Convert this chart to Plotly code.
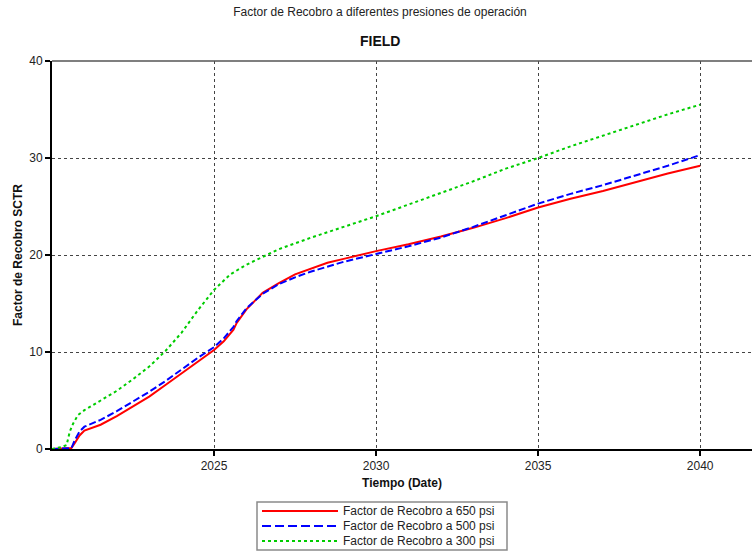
import plotly.graph_objects as go

# Recovery factor (%) versus time for three operating pressures
years_650 = [2020.0, 2020.6, 2020.7, 2020.85, 2021.0, 2021.5, 2022.0, 2022.5, 2023.0,
             2023.5, 2024.0, 2024.5, 2025.0, 2025.3, 2025.6, 2025.7, 2026.0, 2026.5,
             2027.0, 2027.5, 2028.0, 2028.5, 2029.0, 2030.0, 2031.0, 2032.0, 2033.0,
             2034.0, 2035.0, 2036.0, 2037.0, 2038.0, 2039.0, 2040.0]
fr_650 = [0.0, 0.1, 0.6, 1.4, 1.9, 2.5, 3.4, 4.4, 5.4, 6.6, 7.8, 9.0, 10.2, 11.1, 12.3,
          13.0, 14.4, 16.1, 17.1, 18.0, 18.6, 19.2, 19.6, 20.4, 21.1, 21.9, 22.8, 23.8,
          24.9, 25.8, 26.6, 27.5, 28.4, 29.2]

years_500 = years_650
fr_500 = [0.0, 0.1, 0.9, 1.8, 2.3, 3.0, 3.9, 4.9, 5.9, 7.0, 8.2, 9.4, 10.5, 11.4, 12.6,
          13.2, 14.5, 16.0, 17.0, 17.7, 18.3, 18.8, 19.3, 20.1, 20.9, 21.8, 22.9, 24.1,
          25.3, 26.3, 27.2, 28.2, 29.2, 30.3]

years_300 = [2020.0, 2020.3, 2020.45, 2020.55, 2020.65, 2020.8, 2021.0, 2021.5, 2022.0,
             2022.5, 2023.0, 2023.5, 2024.0, 2024.5, 2025.0, 2025.5, 2026.0, 2026.5,
             2027.0, 2027.5, 2028.0, 2029.0, 2030.0, 2031.0, 2032.0, 2033.0, 2034.0,
             2035.0, 2036.0, 2037.0, 2038.0, 2039.0, 2040.0]
fr_300 = [0.0, 0.2, 0.4, 1.8, 2.6, 3.5, 4.0, 5.0, 6.0, 7.2, 8.5, 10.1, 12.0, 14.3, 16.4,
          18.0, 19.0, 19.8, 20.6, 21.2, 21.8, 22.9, 24.0, 25.2, 26.4, 27.6, 28.9, 30.0,
          31.2, 32.3, 33.4, 34.5, 35.5]

series_names = ["Factor de Recobro a 650 psi",
                "Factor de Recobro a 500 psi",
                "Factor de Recobro a 300 psi"]
series_colors = ["#ff0000", "#0000ff", "#00cc00"]
series_dashes = ["solid", "7px,3px", "3px,3px"]
legend_dashes = ["solid", "9px,4px", "3px,3px"]

x_ticks = [2025, 2030, 2035, 2040]
x_tick_labels = ["2025", "2030", "2035", "2040"]
y_ticks = [0, 10, 20, 30, 40]

FONT = "Liberation Sans, Arial, sans-serif"
W, H = 752, 556
PLOT_L, PLOT_T, PLOT_W, PLOT_H = 52, 61, 700, 388
PLOT_B = PLOT_T + PLOT_H


def px_x(px):
    """Page pixel column -> paper x."""
    return (px - PLOT_L) / PLOT_W


def px_y(py):
    """Page pixel row -> paper y."""
    return (PLOT_B - py) / PLOT_H


fig = go.Figure()
for xs, ys, name, color, dash in zip([years_650, years_500, years_300],
                                     [fr_650, fr_500, fr_300],
                                     series_names, series_colors, series_dashes):
    fig.add_trace(go.Scatter(x=xs, y=ys, mode="lines", name=name,
                             line=dict(color=color, width=2, dash=dash)))

# Boxed legend below the plot: three compact rows with long line samples
legend_box = dict(left=257, right=507, top=502, bottom=550)
row_y = [511, 526, 541]
shapes = [
    dict(type="line", xref="paper", yref="paper", x0=0, x1=1, y0=1, y1=1,
         line=dict(color="#555555", width=1.5)),
    dict(type="rect", xref="paper", yref="paper",
         x0=px_x(legend_box["left"]), x1=px_x(legend_box["right"]),
         y0=px_y(legend_box["bottom"]), y1=px_y(legend_box["top"]),
         line=dict(color="#8a8a8a", width=1.5), fillcolor="white", layer="above"),
]
annotations = [
    dict(text="<b>FIELD</b>", xref="paper", yref="paper",
         x=px_x(380), y=px_y(41), xanchor="center", yanchor="middle",
         showarrow=False, font=dict(size=14, color="#111111")),
]
for ry, name, color, dash in zip(row_y, series_names, series_colors, legend_dashes):
    shapes.append(dict(type="line", xref="paper", yref="paper",
                       x0=px_x(262), x1=px_x(338), y0=px_y(ry), y1=px_y(ry),
                       line=dict(color=color, width=2, dash=dash), layer="above"))
    annotations.append(dict(text=name, xref="paper", yref="paper",
                            x=px_x(341), y=px_y(ry), xanchor="left", yanchor="middle",
                            showarrow=False, font=dict(size=12, color="#222222")))

fig.update_layout(
    width=W, height=H,
    margin=dict(l=PLOT_L, r=0, t=PLOT_T, b=H - PLOT_B, autoexpand=False),
    paper_bgcolor="white", plot_bgcolor="white",
    font=dict(family=FONT, size=12, color="#222222"),
    title=dict(text="Factor de Recobro a diferentes presiones de operación",
               x=380 / W, xanchor="center", y=1 - 12 / H, yanchor="middle",
               font=dict(size=12, color="#222222")),
    showlegend=False,
    xaxis=dict(range=[2020, 2041.6], tickvals=x_ticks, ticktext=x_tick_labels,
               showgrid=True, gridcolor="#444444", griddash="dot", gridwidth=1,
               showline=True, linecolor="black", linewidth=2,
               ticks="outside", ticklen=5, tickcolor="black", tickwidth=2,
               zeroline=False,
               title=dict(text="<b>Tiempo (Date)</b>", standoff=6,
                          font=dict(size=12, color="#111111"))),
    yaxis=dict(range=[0, 40], tickvals=y_ticks,
               showgrid=True, gridcolor="#444444", griddash="dot", gridwidth=1,
               showline=True, linecolor="black", linewidth=2,
               ticks="outside", ticklen=5, tickcolor="black", tickwidth=2,
               zeroline=False,
               title=dict(text="<b>Factor de Recobro SCTR</b>", standoff=4,
                          font=dict(size=12, color="#111111"))),
    annotations=annotations,
    shapes=shapes,
)

fig.write_html("out.html")
